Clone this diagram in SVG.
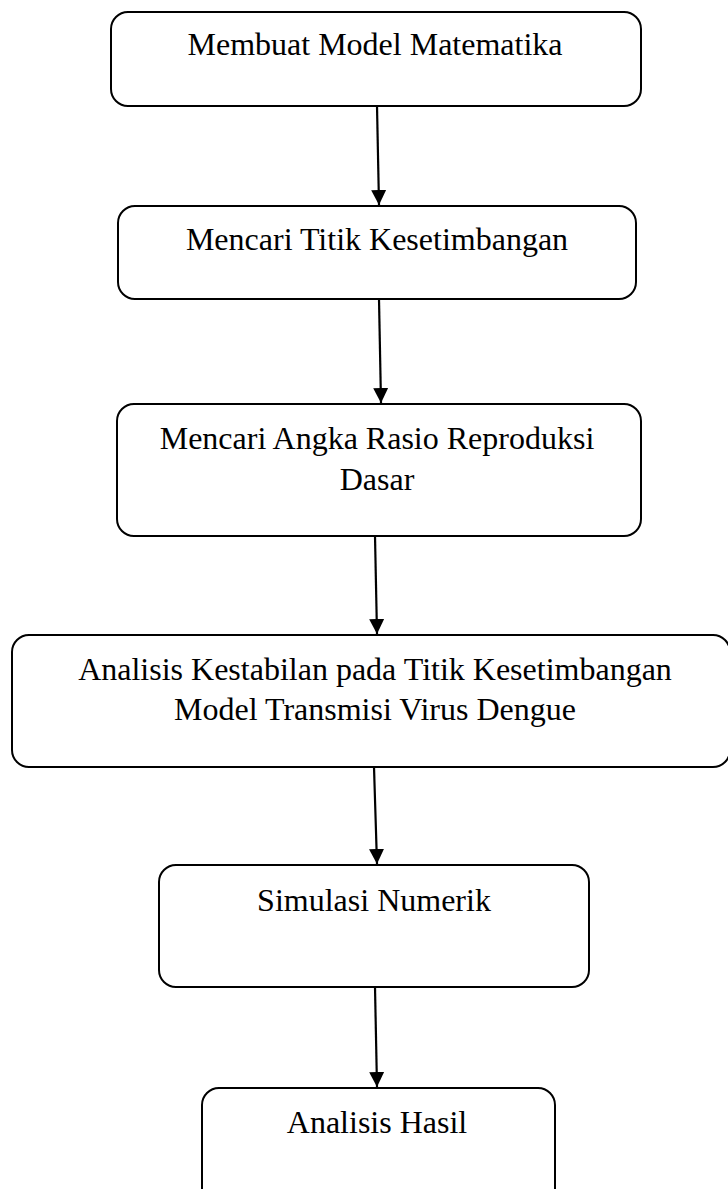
<svg xmlns="http://www.w3.org/2000/svg" width="728" height="1189" viewBox="0 0 728 1189">
<style>
.box{fill:#fff;stroke:#000;stroke-width:2}
.t{font-family:"Liberation Serif","Times New Roman",serif;font-size:32px;fill:#000;text-anchor:middle}
.c{stroke:#000;stroke-width:2.2;fill:none;marker-end:url(#ah)}
</style>
<defs>
<marker id="ah" markerUnits="userSpaceOnUse" markerWidth="16" markerHeight="15" refX="15" refY="7.5" orient="auto">
<path d="M0,0 L15,7.5 L0,15 Z" fill="#000"/>
</marker>
</defs>
<rect width="728" height="1189" fill="#fff"/>
<g id="connectors">
<line class="c" x1="377" y1="106" x2="379" y2="205"/>
<line class="c" x1="379" y1="299" x2="381" y2="403"/>
<line class="c" x1="375" y1="536" x2="377" y2="634"/>
<line class="c" x1="374" y1="767" x2="377" y2="864"/>
<line class="c" x1="375" y1="987" x2="377" y2="1087"/>
</g>
<g id="n1">
<rect class="box" x="111" y="12" width="530" height="94" rx="17"/>
<text class="t" x="375" y="55">Membuat Model Matematika</text>
</g>
<g id="n2">
<rect class="box" x="118" y="206" width="518" height="93" rx="17"/>
<text class="t" x="377" y="250">Mencari Titik Kesetimbangan</text>
</g>
<g id="n3">
<rect class="box" x="117" y="404" width="524" height="132" rx="17"/>
<text class="t" x="377" y="449">Mencari Angka Rasio Reproduksi</text>
<text class="t" x="377" y="490">Dasar</text>
</g>
<g id="n4">
<rect class="box" x="12" y="635" width="718" height="132" rx="17"/>
<text class="t" x="375" y="680">Analisis Kestabilan pada Titik Kesetimbangan</text>
<text class="t" x="375" y="720">Model Transmisi Virus Dengue</text>
</g>
<g id="n5">
<rect class="box" x="159" y="865" width="430" height="122" rx="17"/>
<text class="t" x="374" y="911">Simulasi Numerik</text>
</g>
<g id="n6">
<rect class="box" x="202" y="1088" width="353" height="120" rx="17"/>
<text class="t" x="377" y="1133">Analisis Hasil</text>
</g>
</svg>
